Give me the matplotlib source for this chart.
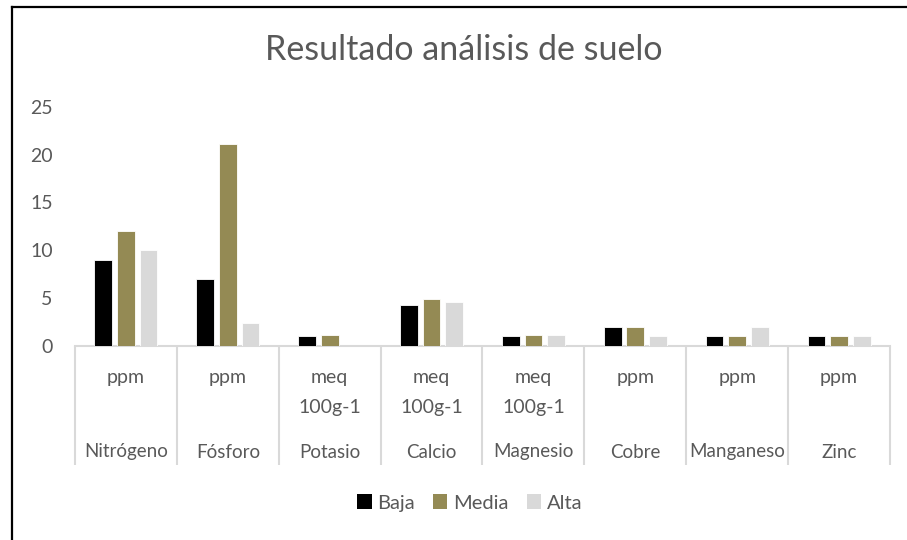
import matplotlib
matplotlib.use('Agg')
import matplotlib.pyplot as plt
import matplotlib.transforms as mtransforms
from matplotlib.lines import Line2D
from matplotlib.patches import Patch
import numpy as np

plt.rcParams['font.family'] = ['Lato', 'DejaVu Sans']

# data
elements = ['Nitrógeno', 'Fósforo', 'Potasio', 'Calcio', 'Magnesio', 'Cobre', 'Manganeso', 'Zinc']
units = ['ppm', 'ppm', 'meq\n100g-1', 'meq\n100g-1', 'meq\n100g-1', 'ppm', 'ppm', 'ppm']
baja = [9, 7, 1, 4.3, 1, 2, 1, 1]
media = [12, 21.1, 1.1, 4.9, 1.2, 2, 1, 1]
alta = [10, 2.4, 0.05, 4.6, 1.1, 1, 2, 1]
series_names = ['Baja', 'Media', 'Alta']
colors = ['#000000', '#948A54', '#D9D9D9']

txt = '#595959'
W, H = 907, 540

fig = plt.figure(figsize=(W / 100, H / 100), dpi=100)
ax_l, ax_r, ax_b, ax_t = 75, 890, 346, 106.7
ax = fig.add_axes([ax_l / W, 1 - ax_b / H, (ax_r - ax_l) / W, (ax_b - ax_t) / H])

x = np.arange(len(elements))
step = 0.222
bw = 0.175
for k, (vals, c) in enumerate(zip([baja, media, alta], colors)):
    ax.bar(x + (k - 1) * step, vals, width=bw, color=c, edgecolor='white', linewidth=0.6, zorder=3)

ax.set_xlim(-0.5, len(elements) - 0.5)
ax.set_ylim(0, 25)
ax.set_yticks(range(0, 26, 5))
ax.tick_params(axis='y', length=0, pad=16, labelsize=14, labelcolor=txt)
ax.set_xticks([])
for s in ['top', 'right', 'left']:
    ax.spines[s].set_visible(False)
ax.spines['bottom'].set_color('#D9D9D9')
ax.spines['bottom'].set_linewidth(1.5)

# category label table under the axis
ax_h_px = ax_b - ax_t
trans = mtransforms.blended_transform_factory(ax.transData, ax.transAxes)
ax.vlines(np.arange(len(elements) + 1) - 0.5, -119 / ax_h_px, 0, transform=trans,
          colors='#D9D9D9', linewidth=1.5, clip_on=False)
for i, (name, unit) in enumerate(zip(elements, units)):
    for j, line in enumerate(unit.split('\n')):
        ax.text(i, -(31 + 30 * j) / ax_h_px, line, transform=trans, ha='center', va='center',
                fontsize=14, color=txt)
    ax.text(i, -106 / ax_h_px, name, transform=trans, ha='center', va='center',
            fontsize=13.5, color=txt)

fig.text(464 / W, 1 - 50 / H, 'Resultado análisis de suelo', ha='center', va='center',
         fontsize=24.5, color=txt)

handles = [Patch(facecolor=c, edgecolor='none') for c in colors]
leg = fig.legend(handles, series_names, loc='center', bbox_to_anchor=(470 / W, 1 - 503 / H),
                 ncol=3, frameon=False, fontsize=14.5, handlelength=0.7, handleheight=0.7,
                 handletextpad=0.3, columnspacing=0.9)
for t in leg.get_texts():
    t.set_color(txt)

# chart border (only left and top edges visible)
fig.add_artist(Line2D([11.5 / W, 11.5 / W], [0, 1 - 7 / H], color='black', linewidth=1.6))
fig.add_artist(Line2D([11.5 / W, 1], [1 - 7 / H, 1 - 7 / H], color='black', linewidth=1.6))

fig.savefig('out.png', dpi=100)
